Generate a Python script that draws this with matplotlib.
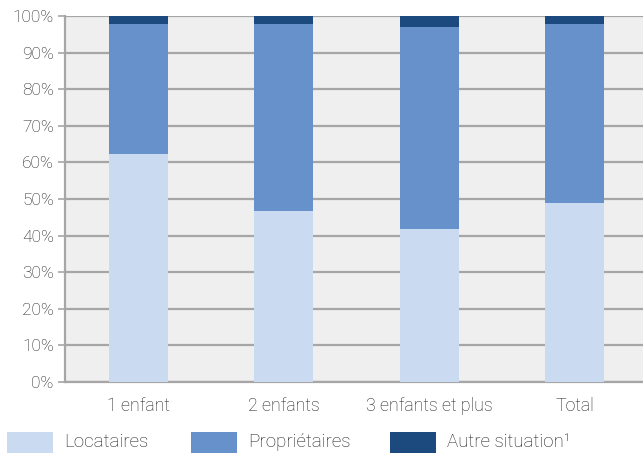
import numpy as np
import matplotlib.pyplot as plt
from matplotlib.patches import Rectangle

plt.rcParams['font.family'] = ['Roboto', 'DejaVu Sans']
plt.rcParams['font.weight'] = 'light'

categories = ["1 enfant", "2 enfants", "3 enfants et plus", "Total"]
locataires = [62.3, 46.7, 41.8, 48.9]
proprietaires = [35.5, 51.1, 55.2, 49.0]
autre = [2.2, 2.2, 3.0, 2.1]
series_names = ["Locataires", "Propriétaires", "Autre situation¹"]
colors = ["#c9daf1", "#6791cb", "#1d4a7e"]
txt_color = "#1e1e1e"

W, H = 643, 454
fig = plt.figure(figsize=(W / 100, H / 100), dpi=100)
ax = fig.add_axes([0.101, 0.1586, 0.899, 0.8062])
ax.set_facecolor("#efefef")

x = np.arange(len(categories))
width = 0.406
bottom = np.zeros(len(categories))
for vals, col in zip([locataires, proprietaires, autre], colors):
    ax.bar(x, vals, width, bottom=bottom, color=col, zorder=3)
    bottom += np.array(vals)

ax.set_xlim(-0.506, 3.471)
ax.set_ylim(0, 100)
ax.set_yticks(np.arange(0, 101, 10))
ax.set_yticklabels([f"{v}%" for v in range(0, 101, 10)])
ax.set_xticks(x)
ax.set_xticklabels(categories)
ax.grid(axis='y', color="#a6a6a6", linewidth=1.6, zorder=1)
ax.tick_params(axis='y', length=5, color="#a6a6a6", width=1.2, labelsize=12.5, labelcolor=txt_color, pad=3)
ax.tick_params(axis='x', length=0, labelsize=12.8, labelcolor=txt_color, pad=11)
for s in ['top', 'right']:
    ax.spines[s].set_visible(False)
for s in ['left', 'bottom']:
    ax.spines[s].set_color("#a6a6a6")
    ax.spines[s].set_linewidth(1.6)

# legend drawn by hand along the bottom
leg_x = [7, 191, 390]
for lx, name, col in zip(leg_x, series_names, colors):
    fig.add_artist(Rectangle((lx / W, 1 / H), 46 / W, 21 / H, transform=fig.transFigure,
                             facecolor=col, edgecolor='none'))
    fig.text((lx + 57) / W, 12 / H, name, fontsize=13.5, color=txt_color, va='center', ha='left')

fig.savefig("out.png", dpi=100)
